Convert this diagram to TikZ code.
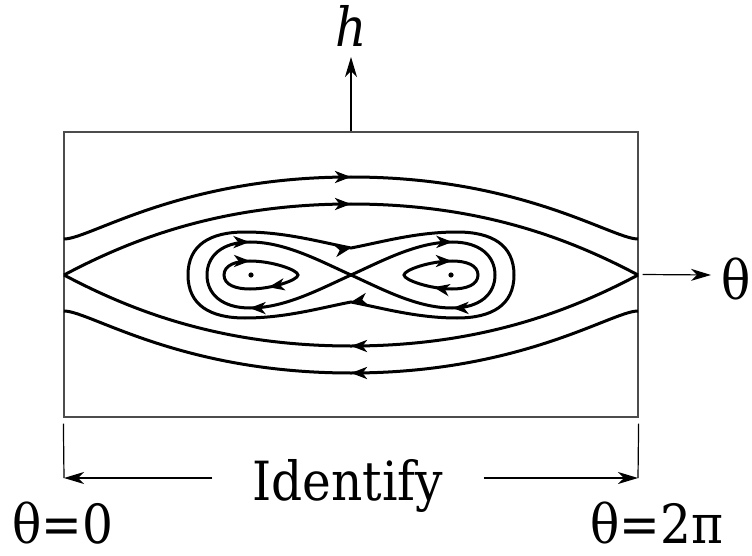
\documentclass[tikz,border=0pt]{standalone}
\usepackage{fontspec}
\setmainfont{DejaVu Serif Condensed}
\usetikzlibrary{
    arrows.meta,
    decorations.markings
}

\tikzset{
    flowtip/.tip={Stealth[length=16pt, width=12pt, inset=4.5pt]},
    axistip/.tip={Stealth[length=20pt, width=12pt, inset=6pt]}
}

\begin{document}
\begin{tikzpicture}[
    x=1pt, y=-1pt,
    every node/.style={font=\fontsize{54}{60}\selectfont, inner sep=0pt},
    frame/.style={draw=black!70, line width=1.2pt, minimum width=574pt, minimum height=285pt},
    orbit/.style={line width=3pt},
    axis/.style={-axistip, line width=1.2pt},
    endbar/.style={line width=1.2pt},
    flow/.style={postaction={decorate}, decoration={markings, mark=at position #1 with {\arrow{flowtip}}}},
    flowtwo/.style 2 args={postaction={decorate}, decoration={markings, mark=at position #1 with {\arrow{flowtip}}, mark=at position #2 with {\arrow{flowtip}}}}
]
\useasboundingbox (0,0) rectangle (752,556);

% phase plane box and axes
\node[frame] (box) at (351,274.5) {};
\node[anchor=base] (hlab) at (351,47) {\itshape h};
\node[anchor=base west] (thlab) at (721,299) {θ};
\coordinate (htip) at (351,57);
\coordinate (thtip) at (711,275);
\draw[axis] (box.north) -- (htip);
\draw[axis] ([xshift=4pt]box.east) -- (thtip);

% rotating orbits
\draw[orbit, flow=0.5] (64,239) .. controls (90,239) and (180,177) .. (351,177) .. controls (522,177) and (612,239) .. (638,239);
\draw[orbit, flow=0.5] (638,311) .. controls (612,311) and (522,373) .. (351,373) .. controls (180,373) and (90,311) .. (64,311);

% outer separatrix
\draw[orbit, flow=0.5] (64,275) .. controls (130,240) and (220,204) .. (351,204) .. controls (482,204) and (572,240) .. (638,275);
\draw[orbit, flow=0.5] (638,275) .. controls (572,310) and (482,346) .. (351,346) .. controls (220,346) and (130,310) .. (64,275);

% orbit round the figure eight
\draw[orbit, flowtwo={0.25}{0.75}] (188,275) .. controls (188,245) and (210,232) .. (245,232) .. controls (285,232) and (320,242) .. (351,248)
    .. controls (382,242) and (417,232) .. (457,232) .. controls (492,232) and (514,245) .. (514,275)
    .. controls (514,305) and (492,318) .. (457,318) .. controls (417,318) and (382,308) .. (351,302)
    .. controls (320,308) and (285,318) .. (245,318) .. controls (210,318) and (188,305) .. (188,275) -- cycle;

% figure eight
\draw[orbit, flowtwo={0.32}{0.68}] (351,275) .. controls (320,289) and (285,308) .. (250,308) .. controls (222,308) and (207,294) .. (207,275)
    .. controls (207,256) and (222,242) .. (250,242) .. controls (285,242) and (320,261) .. (351,275);
\draw[orbit, flowtwo={0.32}{0.68}] (351,275) .. controls (382,261) and (417,242) .. (452,242) .. controls (480,242) and (495,256) .. (495,275)
    .. controls (495,294) and (480,308) .. (452,308) .. controls (417,308) and (382,289) .. (351,275);

% small loops
\draw[orbit, flowtwo={0.195}{0.695}] (224,275) .. controls (224,265) and (236,261) .. (250,261) .. controls (272,261) and (298,270) .. (298,275)
    .. controls (298,280) and (272,289) .. (250,289) .. controls (236,289) and (224,285) .. (224,275) -- cycle;
\draw[orbit, flowtwo={0.305}{0.805}] (404,275) .. controls (404,270) and (430,261) .. (452,261) .. controls (466,261) and (478,265) .. (478,275)
    .. controls (478,285) and (466,289) .. (452,289) .. controls (430,289) and (404,280) .. (404,275) -- cycle;
\fill (251,275) circle[radius=2.6pt];
\fill (451,275) circle[radius=2.6pt];

% identification of the ends
\node[anchor=base] (ident) at (348,500) {Identify};
\node[anchor=base west] (zero) at (12,543) {θ=0};
\node[anchor=base west] (twopi) at (590,543) {θ=2π};
\coordinate (lbot) at (64,478);
\coordinate (rbot) at (638,478);
\draw[endbar] ([yshift=-6pt]box.south west) -- (lbot);
\draw[endbar] ([yshift=-6pt]box.south east) -- (rbot);
\draw[axis, shorten <=40pt] (ident.west |- lbot) -- (lbot);
\draw[axis, shorten <=40pt] (ident.east |- rbot) -- (rbot);

\end{tikzpicture}
\end{document}
